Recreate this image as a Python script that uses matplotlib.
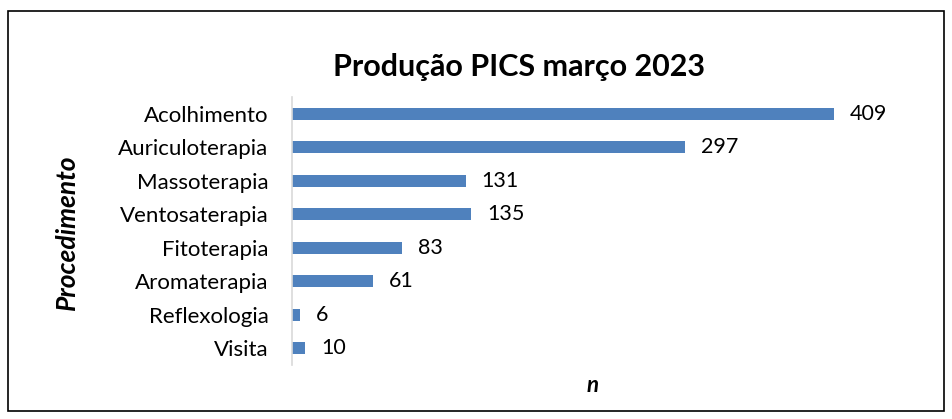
import matplotlib
matplotlib.use('Agg')
import matplotlib.pyplot as plt
from matplotlib.patches import Rectangle

# data
categorias = ['Acolhimento', 'Auriculoterapia', 'Massoterapia', 'Ventosaterapia',
              'Fitoterapia', 'Aromaterapia', 'Reflexologia', 'Visita']
valores = [409, 297, 131, 135, 83, 61, 6, 10]
titulo = 'Produção PICS março 2023'

plt.rcParams['font.family'] = ['Lato', 'DejaVu Sans']

fig = plt.figure(figsize=(9.52, 4.19), dpi=100)
# plot area (pixels -> fractions): x 292..888, y 97..365
ax = fig.add_axes([292 / 952, 1 - 365 / 419, 596 / 952, 268 / 419])

pos = list(range(len(categorias)))
ax.barh(pos, valores, height=0.36, color='#4F81BD')
ax.set_ylim(len(categorias) - 0.5, -0.5)
ax.set_xlim(0, 450)

for p, v in zip(pos, valores):
    ax.annotate(str(v), (v, p), xytext=(16, 0), textcoords='offset pixels',
                va='center', ha='left', fontsize=15.5, color='black')

ax.set_yticks(pos)
ax.set_yticklabels(categorias, fontsize=16)
ax.tick_params(axis='y', length=0, pad=17)
ax.set_xticks([])
for s in ['top', 'right', 'bottom']:
    ax.spines[s].set_visible(False)
ax.spines['left'].set_color('#D9D9D9')
ax.spines['left'].set_linewidth(1.2)

fig.text(519 / 952, 1 - 67 / 419, titulo, ha='center', va='center',
         fontsize=22, fontweight='bold')
fig.text(67 / 952, 1 - 232 / 419, 'Procedimento', ha='center', va='center',
         rotation=90, fontsize=19, fontweight='bold', style='italic')
fig.text(593 / 952, 1 - 385 / 419, 'n', ha='center', va='center',
         fontsize=16, fontweight='bold', style='italic')

# chart border
fig.patches.append(Rectangle((8 / 952, 1 - 411 / 419), 936 / 952, 400 / 419,
                             transform=fig.transFigure, fill=False,
                             edgecolor='black', linewidth=1.2))

fig.savefig('out.png', dpi=100)
